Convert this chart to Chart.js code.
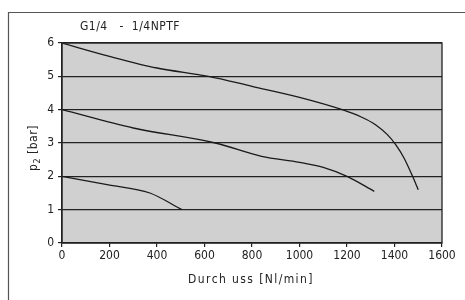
<!DOCTYPE html>
<html>
<head>
<meta charset="utf-8">
<script src="https://cdn.jsdelivr.net/npm/chart.js@4.4.1/dist/chart.umd.min.js"></script>
<style>
  html, body { margin: 0; padding: 0; background: #fff; }
  #wrap { width: 465px; height: 300px; position: relative; }
</style>
</head>
<body>
<div id="wrap"><canvas id="flowChart"></canvas></div>
<script>
// Durchfluss-Kennlinien, G1/4 - 1/4NPTF
const flow6 = [0, 200, 400, 617, 800, 1000, 1180, 1260, 1320, 1370, 1405, 1440, 1476, 1500];
const p6    = [6, 5.6, 5.25, 5.0, 4.7, 4.37, 4.0, 3.78, 3.55, 3.25, 2.95, 2.55, 2.0, 1.6];

const flow4 = [0, 300, 645, 840, 1000, 1100, 1200, 1315];
const p4    = [4, 3.45, 3.0, 2.6, 2.42, 2.27, 2.0, 1.55];

const flow2 = [0, 190, 370, 505];
const p2    = [2, 1.75, 1.5, 1.0];

const xTicks = [0, 200, 400, 600, 800, 1000, 1200, 1400, 1600];
const yTicks = [0, 1, 2, 3, 4, 5, 6];

const FONT = "'DejaVu Sans Condensed', 'Liberation Sans Narrow', sans-serif";

function toPoints(xs, ys) {
    return xs.map((x, i) => ({ x: x, y: ys[i] }));
}

function lineSet(xs, ys) {
    return {
        data: toPoints(xs, ys),
        borderColor: '#1a1a1a',
        borderWidth: 1.3,
        pointRadius: 0,
        cubicInterpolationMode: 'monotone',
        fill: false
    };
}

// grey plot background, frame, titles
const decorPlugin = {
    id: 'decor',
    beforeDraw(chart) {
        const { ctx, chartArea: a } = chart;
        ctx.save();
        ctx.fillStyle = '#d0d0d0';
        ctx.fillRect(a.left, a.top, a.right - a.left, a.bottom - a.top);
        ctx.restore();
    },
    afterDraw(chart) {
        const { ctx, chartArea: a } = chart;
        ctx.save();
        // plot border
        ctx.strokeStyle = '#222';
        ctx.lineWidth = 1.3;
        ctx.strokeRect(a.left, a.top, a.right - a.left, a.bottom - a.top);

        // outer frame (top and left)
        ctx.strokeStyle = '#555';
        ctx.lineWidth = 1.2;
        ctx.beginPath();
        ctx.moveTo(465, 12.5);
        ctx.lineTo(8.5, 12.5);
        ctx.lineTo(8.5, 300);
        ctx.stroke();

        ctx.fillStyle = '#222';
        ctx.textBaseline = 'middle';

        // header
        ctx.font = '12px ' + FONT;
        ctx.letterSpacing = '0.5px';
        ctx.textAlign = 'left';
        ctx.fillText('G1/4   -  1/4NPTF', 80, 27);

        // x axis title
        ctx.letterSpacing = '1.4px';
        ctx.textAlign = 'center';
        ctx.fillText('Durch uss [Nl/min]', 251, 280);

        // y axis title with subscript
        ctx.translate(34, 148);
        ctx.rotate(-Math.PI / 2);
        ctx.letterSpacing = '0.5px';
        ctx.textAlign = 'left';
        const w1 = ctx.measureText('p').width;
        ctx.font = '9px ' + FONT;
        const w2 = ctx.measureText('2').width;
        ctx.font = '12px ' + FONT;
        const w3 = ctx.measureText(' [bar]').width;
        let x0 = -(w1 + w2 + w3) / 2;
        ctx.fillText('p', x0, 0);
        ctx.font = '9px ' + FONT;
        ctx.fillText('2', x0 + w1, 4);
        ctx.font = '12px ' + FONT;
        ctx.fillText(' [bar]', x0 + w1 + w2, 0);
        ctx.restore();
    }
};

new Chart(document.getElementById('flowChart'), {
    type: 'line',
    data: {
        datasets: [
            lineSet(flow6, p6),
            lineSet(flow4, p4),
            lineSet(flow2, p2)
        ]
    },
    options: {
        responsive: true,
        maintainAspectRatio: false,
        animation: false,
        layout: { padding: { top: 43, right: 23, left: 0, bottom: 0 } },
        plugins: {
            legend: { display: false },
            tooltip: { enabled: false }
        },
        scales: {
            x: {
                type: 'linear',
                min: 0,
                max: 1600,
                afterBuildTicks: (s) => { s.ticks = xTicks.map(v => ({ value: v })); },
                afterFit: (s) => { s.height = 57; },
                ticks: {
                    color: '#222', font: { family: FONT, size: 12 }, padding: 2, maxRotation: 0,
                    callback: (v) => String(v)
                },
                grid: { drawOnChartArea: false, color: '#222', tickLength: 4, lineWidth: 1.2 },
                border: { color: '#222', width: 1.3 }
            },
            y: {
                min: 0,
                max: 6,
                afterBuildTicks: (s) => { s.ticks = yTicks.map(v => ({ value: v })); },
                afterFit: (s) => { s.width = 62; },
                ticks: { color: '#222', font: { family: FONT, size: 12 }, padding: 4 },
                grid: { color: '#222', tickLength: 4, lineWidth: 1.2 },
                border: { color: '#222', width: 1.3 }
            }
        }
    },
    plugins: [decorPlugin]
});
</script>
</body>
</html>
